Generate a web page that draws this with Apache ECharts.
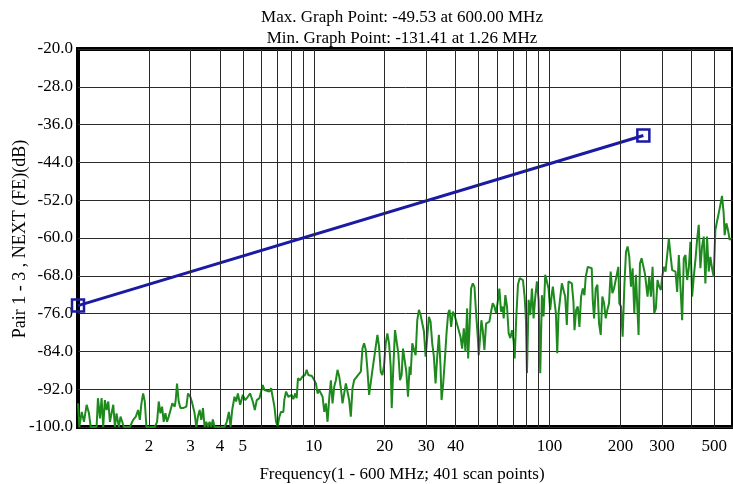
<!DOCTYPE html>
<html><head><meta charset="utf-8">
<script src="https://cdn.jsdelivr.net/npm/echarts@6/dist/echarts.min.js"></script>
<style>html,body{margin:0;padding:0;background:#fff}#c{width:733px;height:484px}</style>
</head><body><div id="c"></div>
<script>
const titleLines = ['Max. Graph Point: -49.53 at 600.00 MHz', 'Min. Graph Point: -131.41 at 1.26 MHz'];
const xAxisTitle = 'Frequency(1 - 600 MHz; 401 scan points)';
const yAxisTitle = 'Pair 1 - 3 , NEXT (FE)(dB)';
const xLabelValues = [2,3,4,5,10,20,30,40,100,200,300,500];
const xGridValues = [2,3,4,5,6,7,8,9,10,20,30,40,50,60,70,80,90,100,200,300,400,500,600];
const yMin = -100, yMax = -20, yStep = 8;
const limitLine = [[1,-74.3],[250,-38.3]];
const scanLow = [[1.0,-95.0],[1.013,-100],[1.037,-96.8],[1.060,-98.9],[1.088,-95.3],[1.113,-97.1],[1.132,-100],[1.161,-100],[1.199,-100],[1.215,-93.9],[1.239,-98.2],[1.259,-93.9],[1.279,-100],[1.300,-94.3],[1.322,-96.4],[1.344,-94.6],[1.366,-98.9],[1.388,-97.1],[1.411,-95.3],[1.434,-100],[1.457,-97.1],[1.490,-100],[1.515,-97.8],[1.540,-98.9],[1.565,-100],[1.606,-100],[1.659,-100],[1.714,-98.5],[1.759,-97.8],[1.799,-96.4],[1.829,-98.5],[1.858,-95.0],[1.889,-92.9],[1.920,-94.6],[1.951,-100],[2.016,-100],[2.117,-100],[2.165,-98.9],[2.200,-94.6],[2.236,-97.1],[2.273,-95.7],[2.310,-98.9],[2.348,-97.1],[2.386,-98.9],[2.426,-97.8],[2.465,-98.2],[2.513,-95.0],[2.572,-95.7],[2.597,-94.3],[2.630,-90.8],[2.674,-94.6],[2.718,-96.0],[2.789,-96.0],[2.881,-95.7],[2.928,-92.9],[2.995,-93.6],[3.053,-95.0],[3.123,-97.1],[3.175,-100],[3.226,-97.8],[3.281,-96.4],[3.334,-98.5],[3.389,-96.0],[3.443,-100],[3.500,-98.9],[3.556,-100],[3.614,-98.9],[3.674,-100],[3.733,-98.4],[3.795,-100],[3.985,-100],[4.183,-100],[4.278,-98.9],[4.364,-96.8],[4.436,-100],[4.508,-96.4],[4.611,-93.6],[4.687,-94.6],[4.764,-92.9],[4.873,-95.3],[5.001,-93.2],[5.117,-94.3],[5.250,-93.6],[5.373,-92.9],[5.514,-94.6],[5.622,-96.4],[5.733,-94.3],[5.884,-93.9],[5.980,-94.3],[6.078,-91.1],[6.177,-92.2],[6.279,-91.8],[6.48,-92.5]];
const scanMid = [[6.59,-91.8],[6.70,-91.8],[6.81,-95.7],[6.92,-98.9],[7.03,-99.8],[7.15,-97.8],[7.26,-96.8],[7.43,-96.8],[7.50,-94.3],[7.63,-92.5],[7.80,-93.6],[7.95,-93.9],[8.06,-93.2],[8.19,-94.1],[8.35,-92.9],[8.46,-93.9],[8.57,-89.7],[8.74,-90.1],[8.97,-89.3],[9.18,-89.0],[9.33,-87.9],[9.48,-89.0],[9.63,-88.6],[9.82,-89.2],[10.05,-90.1],[10.21,-90.8],[10.38,-92.9],[10.55,-92.2],[10.72,-92.5],[10.90,-93.6],[11.08,-96.8],[11.26,-95.0],[11.44,-98.9],[11.63,-93.9],[11.82,-90.1],[12.01,-95.0],[12.21,-91.5],[12.41,-90.1],[12.61,-87.9],[12.82,-89.3],[13.03,-91.8],[13.24,-95.0],[13.46,-95.0],[13.68,-90.8],[13.90,-90.4],[14.13,-94.3],[14.36,-97.8],[14.60,-91.8],[14.83,-90.1],[15.08,-90.1],[15.32,-89.2],[15.57,-89.3],[15.83,-88.3],[16.09,-83.4],[16.35,-82.3],[16.62,-83.7],[16.89,-87.9],[17.17,-93.2],[17.45,-93.2],[17.74,-87.9],[18.03,-87.6],[18.32,-83.0],[18.62,-80.5],[18.92,-83.0],[19.23,-88.3],[19.54,-89.0],[19.87,-86.9],[20.19,-82.3],[20.52,-80.2],[20.86,-82.3],[21.20,-87.2],[21.41,-96.0],[21.76,-87.2],[22.11,-79.5],[22.47,-79.8],[22.84,-84.4],[23.22,-90.1],[23.59,-89.0],[23.90,-83.4],[24.29,-83.4],[24.69,-88.3],[25.10,-93.6],[25.50,-87.2],[25.75,-89.0],[26.17,-82.3],[26.60,-81.9],[27.04,-84.8],[27.48,-77.4],[27.93,-75.2],[28.39,-76.3],[28.85,-76.7],[29.33,-79.8],[29.81,-85.1],[30.29,-85.1],[30.79,-76.7],[31.29,-77.7],[31.80,-82.3],[32.32,-85.1],[32.85,-90.8],[33.39,-85.1],[33.94,-80.5],[34.49,-87.2],[34.83,-94.3],[35.40,-90.8],[35.97,-85.8],[36.56,-80.2],[37.16,-75.9],[37.65,-75.2],[38.27,-78.8],[38.89,-75.6],[39.53,-76.3],[40.18,-75.9]];
const scanHigh = [[41.91,-80.9],[42.59,-83.4],[43.29,-79.1],[44.00,-84.1],[44.72,-74.9],[45.16,-85.5],[45.75,-79.5],[46.49,-70.7],[47.25,-69.6],[48.03,-70.3],[48.81,-75.9],[49.61,-80.9],[50.09,-84.8],[50.91,-80.2],[51.41,-77.4],[52.08,-79.5],[52.94,-83.7],[53.80,-78.1],[54.68,-77.7],[55.58,-77.7],[56.49,-75.6],[57.41,-73.8],[58.35,-74.5],[59.31,-75.9],[60.28,-73.5],[61.26,-70.7],[62.27,-75.6],[63.29,-74.5],[63.90,-77.0],[64.95,-72.1],[66.01,-74.5],[67.09,-80.2],[68.19,-81.2],[69.31,-79.5],[70.44,-81.9],[71.13,-85.5],[72.29,-76.6],[73.47,-69.9],[74.67,-68.5],[75.90,-68.2],[77.14,-68.9],[78.41,-72.4],[79.43,-77.4],[80.21,-88.6],[81.52,-73.1],[82.86,-76.3],[84.21,-70.7],[85.59,-77.0],[87.00,-72.4],[88.42,-69.2],[89.87,-73.1],[91.34,-88.6],[92.83,-72.1],[94.32,-76.6],[95.87,-67.8],[97.43,-68.2],[99.04,-70.7],[100.65,-75.2],[102.3,-71.7],[103.3,-70.3],[105.0,-73.5],[106.4,-75.9],[107.8,-84.4],[109.2,-75.9],[110.9,-72.8],[112.8,-69.6],[114.6,-69.2],[116.5,-72.4],[118.4,-78.4],[120.3,-69.2],[122.3,-68.9],[124.3,-69.6],[126.3,-73.5],[127.6,-79.5],[129.7,-75.2],[131.8,-74.5],[133.9,-78.8],[136.1,-72.4],[138.4,-70.7],[140.6,-72.1],[142.4,-68.2],[145.3,-66.1],[147.6,-66.4],[151.0,-66.4],[152.5,-73.1],[154.5,-77.0],[157.0,-70.7],[159.6,-69.9]];
const scanTop = [[162.2,-78.1],[164.9,-80.5],[167.5,-72.4],[170.3,-73.8],[173.1,-77.0],[175.9,-75.2],[178.8,-73.8],[181.7,-67.1],[184.7,-71.7],[187.7,-70.7],[190.8,-70.3],[195.8,-66.1],[197.7,-73.8],[200.9,-74.5],[204.2,-80.9],[207.6,-70.3],[211.0,-62.9],[214.4,-61.8],[217.9,-64.0],[221.5,-70.3],[225.1,-66.4],[228.8,-75.9],[232.5,-67.8],[236.3,-67.5],[238.6,-80.5],[241.8,-65.4],[245.7,-64.3],[249.7,-64.0],[253.8,-67.5],[257.9,-67.1],[260.5,-72.4],[264.7,-68.2],[269.1,-72.4],[273.5,-66.1],[278.0,-75.9],[282.5,-74.9],[287.1,-68.9],[291.8,-70.3],[296.6,-71.0],[300.5,-68.2],[305.4,-66.1],[310.4,-67.1],[315.5,-66.8],[320.7,-60.1],[325.9,-63.6],[331.3,-66.8],[336.7,-66.4],[342.2,-67.1],[347.8,-71.4],[353.5,-63.6],[359.3,-63.2],[365.2,-77.4],[371.1,-64.3],[377.2,-63.6],[383.4,-68.9],[389.6,-66.4],[396.0,-60.8],[402.5,-72.4],[409.0,-68.2],[415.7,-64.7],[422.5,-60.4],[429.4,-57.2],[436.4,-66.4],[443.6,-61.8],[450.8,-59.7],[458.2,-69.6],[465.7,-59.7],[473.3,-67.1],[481.0,-64.0],[488.9,-66.4],[496.9,-68.2],[505.0,-58.3],[513.3,-56.5],[521.7,-54.8],[530.3,-53.0],[538.9,-51.1],[547.8,-54.8],[553.1,-59.4],[562.3,-56.9],[571.4,-58.3],[580.8,-60.4],[588.4,-60.1]];

const FONT = '"Liberation Serif", "DejaVu Serif", serif';
const chart = echarts.init(document.getElementById('c'), null, {renderer: 'canvas'});
const scan = scanLow.concat(scanMid, scanHigh, scanTop);

chart.setOption({
  animation: false,
  backgroundColor: '#fff',
  grid: {left: 78, top: 49, width: 657, height: 378, show: true, borderColor: '#000', borderWidth: 4, backgroundColor: 'transparent', z: 0},
  xAxis: {
    type: 'log', logBase: 10, min: 1, max: 600,
    axisLine: {show: false}, axisTick: {show: false}, splitLine: {show: false},
    axisLabel: {customValues: xLabelValues, formatter: v => String(Math.round(v)), fontFamily: FONT, fontSize: 17, color: '#000', margin: 11}
  },
  yAxis: {
    type: 'value', min: yMin, max: yMax, interval: yStep,
    axisLine: {show: false}, axisTick: {show: false},
    splitLine: {show: true, lineStyle: {color: '#2a2a2a', width: 1}},
    axisLabel: {formatter: v => v.toFixed(1), fontFamily: FONT, fontSize: 17, color: '#000', margin: 5}
  },
  graphic: [
    {type: 'text', x: 402, y: 18, style: {text: titleLines[0], font: '17px ' + FONT, fill: '#000', textAlign: 'center', textVerticalAlign: 'middle'}},
    {type: 'text', x: 402, y: 39, style: {text: titleLines[1], font: '17px ' + FONT, fill: '#000', textAlign: 'center', textVerticalAlign: 'middle'}},
    {type: 'text', x: 402, y: 475, style: {text: xAxisTitle, font: '17px ' + FONT, fill: '#000', textAlign: 'center', textVerticalAlign: 'middle'}},
    {type: 'text', x: 20, y: 239, rotation: Math.PI / 2, style: {text: yAxisTitle, font: '18px ' + FONT, fill: '#000', textAlign: 'center', textVerticalAlign: 'middle'}}
  ],
  series: [
    {type: 'line', data: [], z: 1, silent: true,
     markLine: {silent: true, symbol: ['none', 'none'], label: {show: false}, animation: false,
       lineStyle: {color: '#2a2a2a', width: 1, type: 'solid'},
       data: xGridValues.map(v => ({xAxis: v}))}},
    {type: 'line', data: scan, showSymbol: false, symbol: 'none', z: 3,
     lineStyle: {color: '#1e8a1e', width: 2}},
    {type: 'line', data: limitLine, symbol: 'rect', symbolSize: 12, showSymbol: true, z: 4,
     itemStyle: {color: 'rgba(255,255,255,0)', borderColor: '#1a1aa3', borderWidth: 2.5, opacity: 1},
     lineStyle: {color: '#1a1aa3', width: 3}}
  ]
});
</script></body></html>
